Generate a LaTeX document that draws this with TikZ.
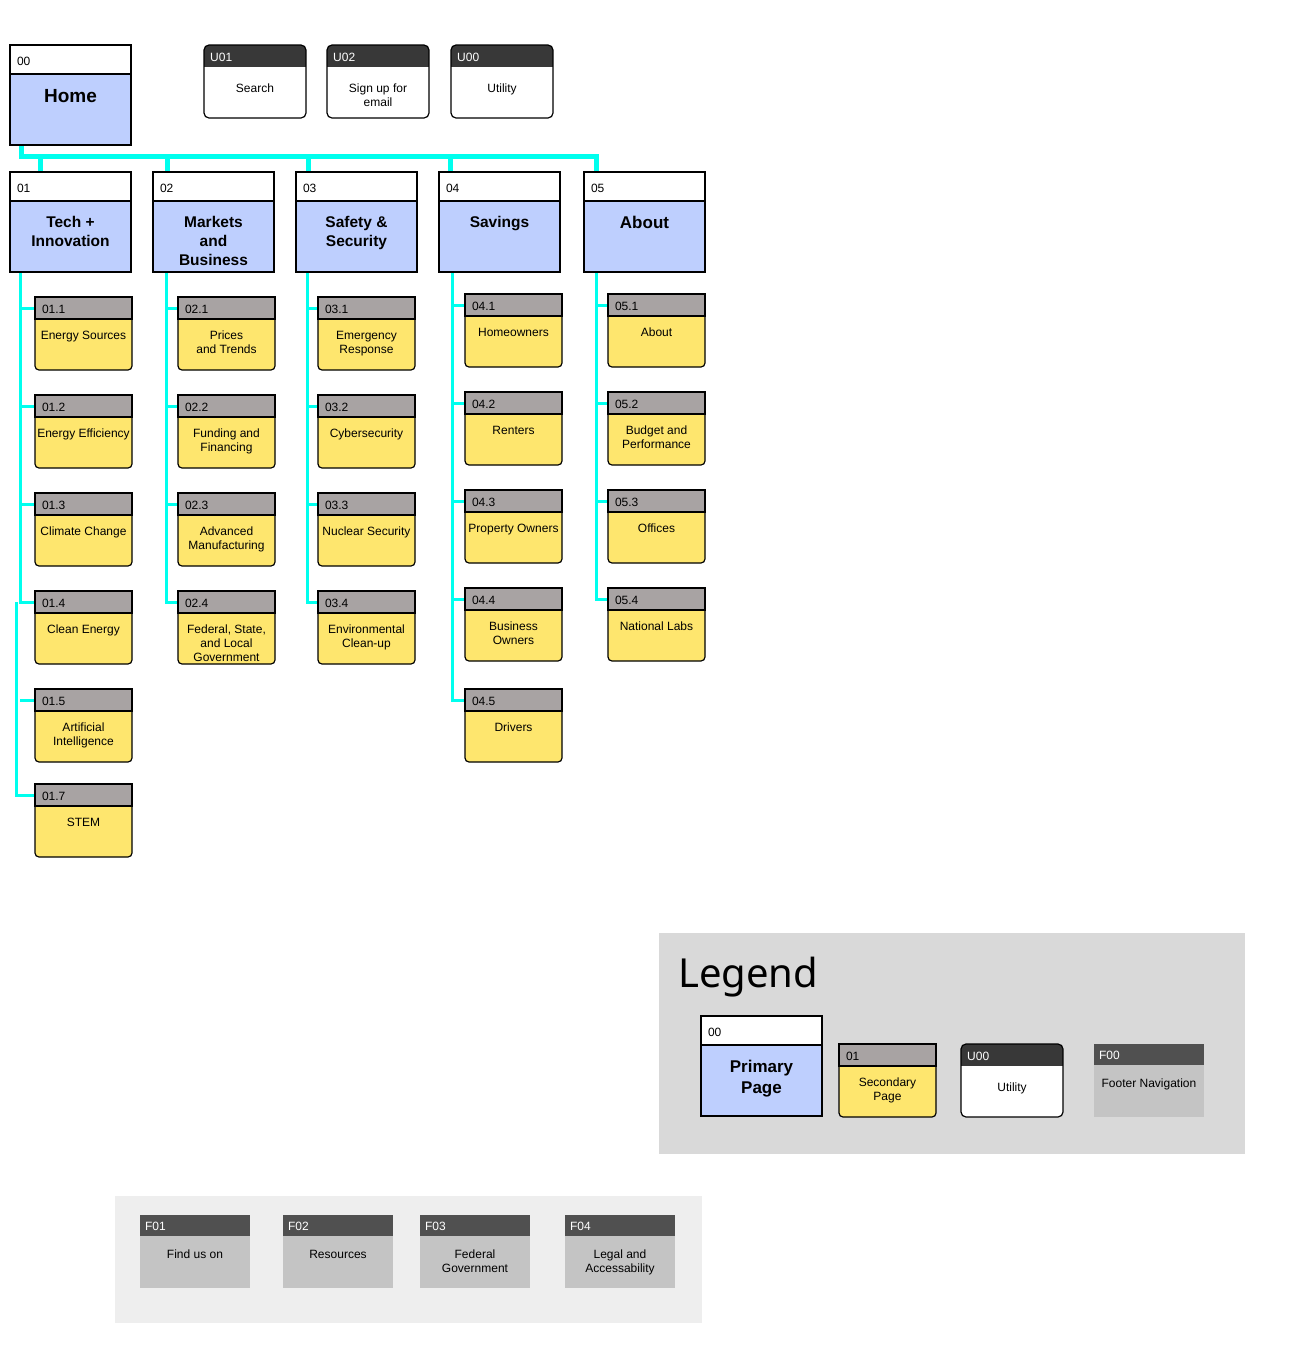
\documentclass[tikz,border=0pt]{standalone}
\usepackage{fontspec}
\setmainfont{Liberation Sans}
\newfontfamily\legendfont{Noto Sans}
\usepackage{xcolor}
\usetikzlibrary{positioning,calc,backgrounds}

\definecolor{primblue}{HTML}{BECFFE}
\definecolor{secyellow}{HTML}{FEE66E}
\definecolor{secgray}{HTML}{A8A3A3}
\definecolor{utildark}{HTML}{383838}
\definecolor{footdark}{HTML}{505050}
\definecolor{footgray}{HTML}{C4C4C4}
\definecolor{legendbg}{HTML}{D9D9D9}
\definecolor{footerbg}{HTML}{EEEEEE}
\definecolor{linkcyan}{HTML}{00FFEE}

% page boxes: name, x, y, number, label
\newcommand{\primpage}[6][\fontsize{15.5}{19}\selectfont]{%
  \node[primhead] (#2-h) at (#3,#4) {#5};
  \node[primbody] (#2) at (#2-h.south west) {};
  \draw[line width=2.4pt] (#2-h.south west) -- (#2-h.south east);
  \node[titletext,font=#1\bfseries] (#2-t) at ([yshift=-15pt]#2.north) {#6};}
\newcommand{\secpage}[5]{%
  \node[secbody] (#1) at (#2,#3) {};
  \node[sechead] (#1-h) at (#1.north west) {#4};
  \node[pagetext] (#1-t) at ([yshift=-12pt]#1-h.south) {#5};}
\newcommand{\utilpage}[5]{%
  \node[utilbody] (#1) at (#2,#3) {};
  \begin{scope}
    \clip[rounded corners=5pt] (#1.north west) rectangle (#1.south east);
    \fill[utildark] (#1.north west) rectangle ([yshift=-22pt]#1.north east);
  \end{scope}
  \draw[line width=1.2pt,rounded corners=5pt] (#1.north west) rectangle (#1.south east);
  \node[utilhead] (#1-h) at ([xshift=6pt,yshift=-12pt]#1.north west) {#4};
  \node[pagetext] (#1-t) at ([yshift=-39pt]#1.north) {#5};}
\newcommand{\footpage}[5]{%
  \node[footbody] (#1) at (#2,#3) {};
  \node[foothead] (#1-h) at (#1.north west) {#4};
  \node[pagetext] (#1-t) at ([yshift=-14pt]#1-h.south) {#5};}

\begin{document}
\begin{tikzpicture}[x=1pt,y=-1pt,
    txt/.style={font=\fontsize{12}{14}\selectfont},
    primhead/.style={txt,anchor=north west,draw,line width=1.2pt,fill=white,minimum height=29pt,
                     text width=107pt,inner xsep=7pt,inner ysep=0pt,align=left,outer sep=0pt,
                     text height=12pt,text depth=0pt},
    primbody/.style={anchor=north west,draw,line width=1.2pt,fill=primblue,minimum width=121pt,
                     minimum height=71pt,inner sep=0pt,outer sep=0pt},
    titletext/.style={anchor=north,align=center,inner sep=0pt},
    secbody/.style={anchor=north west,draw,line width=1.2pt,fill=secyellow,rounded corners=4pt,
                    minimum width=97pt,minimum height=73pt,inner sep=0pt,outer sep=0pt},
    sechead/.style={txt,anchor=north west,draw,line width=1.2pt,fill=secgray,minimum height=22pt,
                    text width=83pt,inner xsep=7pt,inner ysep=0pt,align=left,outer sep=0pt,
                    text height=10.5pt,text depth=0pt},
    utilbody/.style={anchor=north west,fill=white,rounded corners=5pt,minimum width=102pt,
                     minimum height=73pt,inner sep=0pt,outer sep=0pt},
    utilhead/.style={txt,anchor=west,text=white,inner sep=0pt},
    footbody/.style={anchor=north west,fill=footgray,minimum width=110pt,minimum height=73pt,
                     inner sep=0pt,outer sep=0pt},
    foothead/.style={txt,anchor=north west,fill=footdark,text=white,minimum height=21pt,
                     text width=100pt,inner xsep=5pt,inner ysep=0pt,align=left,outer sep=0pt,
                     text height=10pt,text depth=0pt},
    pagetext/.style={txt,anchor=north,align=center,inner sep=0pt},
    bus/.style={draw=linkcyan,line width=5pt},
    branch/.style={draw=linkcyan,line width=3pt}]
  \useasboundingbox (0,0) rectangle (1313,1361);

  % panels
  \fill[legendbg] (659,933) rectangle (1245,1154);
  \fill[footerbg] (115,1196) rectangle (702,1323);

  % top level
  \primpage[\fontsize{19}{23}\selectfont]{home}{10}{45}{00}{Home}
  \utilpage{u01}{204}{45}{U01}{Search}
  \utilpage{u02}{327}{45}{U02}{Sign up for\\email}
  \utilpage{u00}{451}{45}{U00}{Utility}

  \primpage{p01}{10}{172}{01}{Tech +\\Innovation}
  \primpage{p02}{153}{172}{02}{Markets\\and\\Business}
  \primpage{p03}{296}{172}{03}{Safety \&\\Security}
  \primpage{p04}{439}{172}{04}{Savings}
  \primpage[\fontsize{17}{21}\selectfont]{p05}{584}{172}{05}{About}

  % secondary pages
  \secpage{s011}{35}{297}{01.1}{Energy Sources}
  \secpage{s012}{35}{395}{01.2}{Energy Efficiency}
  \secpage{s013}{35}{493}{01.3}{Climate Change}
  \secpage{s014}{35}{591}{01.4}{Clean Energy}
  \secpage{s015}{35}{689}{01.5}{Artificial\\Intelligence}
  \secpage{s017}{35}{784}{01.7}{STEM}

  \secpage{s021}{178}{297}{02.1}{Prices\\and Trends}
  \secpage{s022}{178}{395}{02.2}{Funding and\\Financing}
  \secpage{s023}{178}{493}{02.3}{Advanced\\Manufacturing}
  \secpage{s024}{178}{591}{02.4}{Federal, State,\\and Local\\Government}

  \secpage{s031}{318}{297}{03.1}{Emergency\\Response}
  \secpage{s032}{318}{395}{03.2}{Cybersecurity}
  \secpage{s033}{318}{493}{03.3}{Nuclear Security}
  \secpage{s034}{318}{591}{03.4}{Environmental\\Clean-up}

  \secpage{s041}{465}{294}{04.1}{Homeowners}
  \secpage{s042}{465}{392}{04.2}{Renters}
  \secpage{s043}{465}{490}{04.3}{Property Owners}
  \secpage{s044}{465}{588}{04.4}{Business\\Owners}
  \secpage{s045}{465}{689}{04.5}{Drivers}

  \secpage{s051}{608}{294}{05.1}{About}
  \secpage{s052}{608}{392}{05.2}{Budget and\\Performance}
  \secpage{s053}{608}{490}{05.3}{Offices}
  \secpage{s054}{608}{588}{05.4}{National Labs}

  % legend
  \node[font=\legendfont\fontsize{40}{48}\selectfont,anchor=base west,inner sep=0pt] (legendtitle) at (678,987) {Legend};
  \primpage[\fontsize{17}{21}\selectfont]{lprim}{701}{1016}{00}{Primary\\Page}
  \secpage{lsec}{839}{1044}{01}{Secondary\\Page}
  \utilpage{lutil}{961}{1044}{U00}{Utility}
  \footpage{lfoot}{1094}{1044}{F00}{Footer Navigation}

  % footer
  \footpage{f01}{140}{1215}{F01}{Find us on}
  \footpage{f02}{283}{1215}{F02}{Resources}
  \footpage{f03}{420}{1215}{F03}{Federal\\Government}
  \footpage{f04}{565}{1215}{F04}{Legal and\\Accessability}

  % connectors
  \begin{pgfonlayer}{background}
    \draw[bus] ([xshift=11pt]home.south west) -- ++(0,11) -| ([xshift=12pt]p05-h.north west);
    \foreach \p/\dx in {p01/30,p02/14,p03/12,p04/11}
      \draw[bus] ([xshift=\dx pt]\p-h.north west) -- ++(0,-15);

    \coordinate (t01) at ([xshift=10pt]p01.south west);
    \coordinate (t01b) at ([xshift=-4pt]t01);
    \coordinate (t02) at ([xshift=13pt]p02.south west);
    \coordinate (t03) at ([xshift=11pt]p03.south west);
    \coordinate (t04) at ([xshift=13pt]p04.south west);
    \coordinate (t05) at ([xshift=12pt]p05.south west);

    \draw[branch] (t01) |- (s014-h.west);
    \foreach \s in {s011,s012,s013,s015}
      \draw[branch] (\s-h.west -| t01) -- (\s-h.west);
    \draw[branch] (t01b |- s014-h.west) |- (s017-h.west);

    \draw[branch] (t02) |- (s024-h.west);
    \foreach \s in {s021,s022,s023}
      \draw[branch] (\s-h.west -| t02) -- (\s-h.west);

    \draw[branch] (t03) |- (s034-h.west);
    \foreach \s in {s031,s032,s033}
      \draw[branch] (\s-h.west -| t03) -- (\s-h.west);

    \draw[branch] (t04) |- (s045-h.west);
    \foreach \s in {s041,s042,s043,s044}
      \draw[branch] (\s-h.west -| t04) -- (\s-h.west);

    \draw[branch] (t05) |- (s054-h.west);
    \foreach \s in {s051,s052,s053}
      \draw[branch] (\s-h.west -| t05) -- (\s-h.west);
  \end{pgfonlayer}
\end{tikzpicture}
\end{document}
